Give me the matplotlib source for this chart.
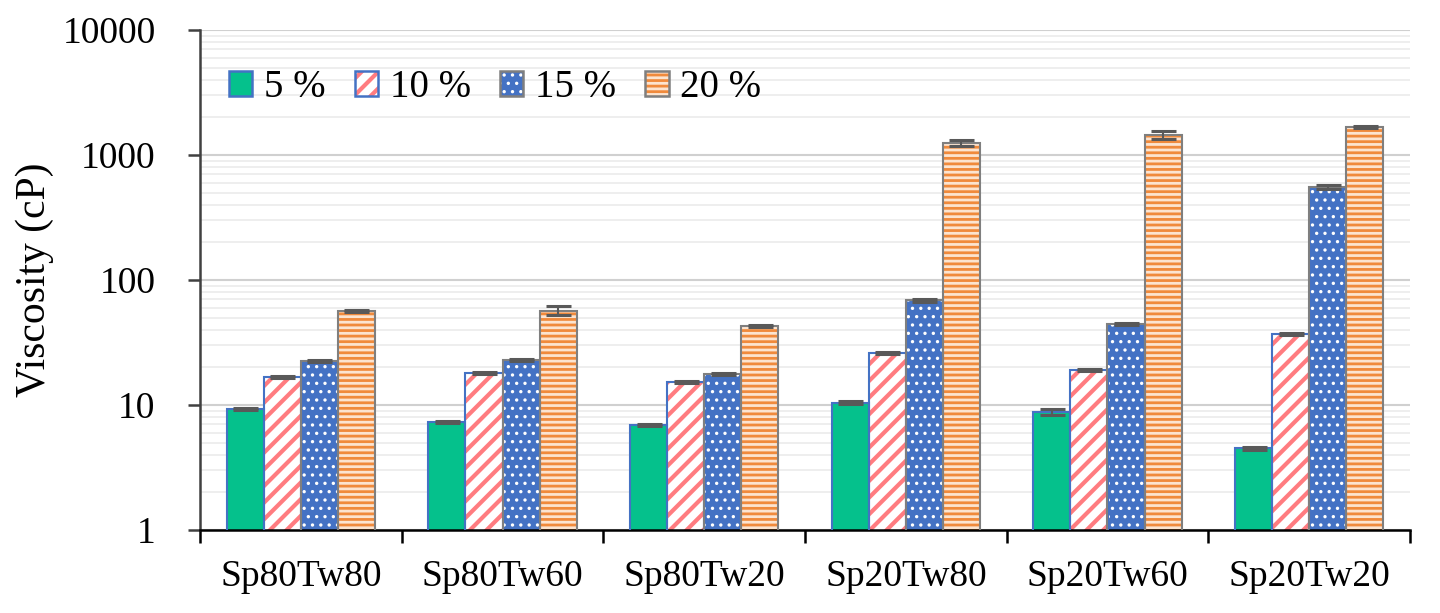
import numpy as np
import matplotlib
matplotlib.use("Agg")
import matplotlib.pyplot as plt
from matplotlib.patches import Patch, Rectangle
from matplotlib.legend_handler import HandlerTuple
from matplotlib.ticker import LogLocator, NullFormatter, FixedLocator

categories = ["Sp80Tw80", "Sp80Tw60", "Sp80Tw20", "Sp20Tw80", "Sp20Tw60", "Sp20Tw20"]
series = ["5 %", "10 %", "15 %", "20 %"]

v5 = [9.3, 7.3, 6.9, 10.4, 8.8, 4.5]
v10 = [16.8, 18.0, 15.3, 26.0, 19.0, 37.0]
v15 = [22.5, 22.9, 17.7, 69.0, 44.5, 555.0]
v20 = [56.5, 57.0, 42.9, 1250.0, 1445.0, 1675.0]

e5 = [0.2, 0.15, 0.15, 0.3, 0.5, 0.1]
e10 = [0.3, 0.3, 0.3, 0.4, 0.4, 0.8]
e15 = [0.4, 0.5, 0.4, 2.0, 1.0, 25.0]
e20 = [1.0, 5.0, 1.0, 80.0, 110.0, 30.0]

plt.rcParams["font.family"] = ["Liberation Serif", "DejaVu Serif"]

fig = plt.figure(figsize=(14.4, 6.13), dpi=100)
ax = fig.add_axes([200 / 1440, 1 - 530 / 613, 1210 / 1440, 500 / 613])

styles = [
    dict(face="#05C18C", hatch=None, hcol=None, edge="#4472C4", hlw=1),
    dict(face="white", hatch="//", hcol="#FF7C80", edge="#4472C4", hlw=3.0),
    dict(face="#4472C4", hatch="..", hcol="white", edge="#7F7F7F", hlw=1.2),
    dict(face="#FCE4D0", hatch="---", hcol="#F08A3C", edge="#7F7F7F", hlw=2.0),
]

values = [v5, v10, v15, v20]
errors = [e5, e10, e15, e20]
x = np.arange(len(categories))
w = 0.184
offsets = (np.arange(4) - 1.5) * w


def set_hlw(patch, lw):
    if hasattr(patch, "set_hatch_linewidth"):
        patch.set_hatch_linewidth(lw)


for vals, errs, st, off in zip(values, errors, styles, offsets):
    with plt.rc_context({"hatch.linewidth": st["hlw"]}):
        if st["hatch"]:
            bars = ax.bar(x + off, vals, w, color=st["face"], hatch=st["hatch"],
                          edgecolor=st["hcol"], linewidth=0, zorder=2)
            for b in bars:
                set_hlw(b, st["hlw"])
        else:
            ax.bar(x + off, vals, w, color=st["face"], linewidth=0, zorder=2)
    ax.bar(x + off, vals, w, fill=False, edgecolor=st["edge"], linewidth=1.5, zorder=3)
    ax.errorbar(x + off, vals, yerr=errs, fmt="none", ecolor="#595959",
                elinewidth=1.5, capsize=9, capthick=2.2, zorder=4)

ax.set_yscale("log")
ax.set_ylim(1, 10000)
ax.set_xlim(-0.5, len(categories) - 0.5)
ax.yaxis.set_major_locator(FixedLocator([1, 10, 100, 1000, 10000]))
ax.set_yticklabels(["1", "10", "100", "1000", "10000"])
ax.yaxis.set_minor_locator(LogLocator(base=10, subs=np.arange(2, 10)))
ax.yaxis.set_minor_formatter(NullFormatter())
ax.grid(True, which="major", axis="y", color="#D0D0D0", linewidth=1.5, zorder=0)
ax.grid(True, which="minor", axis="y", color="#EBEBEB", linewidth=1.2, zorder=0)
ax.set_axisbelow(True)

ax.set_xticks(x)
ax.set_xticklabels(categories)
ax.set_xticks(np.arange(len(categories) + 1) - 0.5, minor=True)
ax.tick_params(axis="x", which="major", length=0, labelsize=27, pad=21)
ax.tick_params(axis="x", which="minor", length=9, width=1.8, direction="out", color="black")
ax.tick_params(axis="y", which="major", length=9, width=1.8, direction="out",
               color="#404040", labelsize=27, pad=23)
ax.tick_params(axis="y", which="minor", length=0)

for s in ["top", "right"]:
    ax.spines[s].set_visible(False)
ax.spines["left"].set_color("#404040")
ax.spines["left"].set_linewidth(1.8)
ax.spines["bottom"].set_color("black")
ax.spines["bottom"].set_linewidth(1.8)

ax.set_ylabel("Viscosity (cP)", fontsize=30, labelpad=6)

# legend: hatch patch with outline patch on top
handles = []
for st in styles:
    inner = Patch(facecolor=st["face"], hatch=st["hatch"],
                  edgecolor=st["hcol"] if st["hatch"] else st["face"], linewidth=0)
    outer = Patch(fill=False, edgecolor=st["edge"], linewidth=1.8)
    handles.append((inner, outer))

leg = ax.legend(handles, series, loc="upper left", ncol=4, frameon=False, fontsize=28,
                handlelength=0.6, handleheight=0.6, handletextpad=0.3, columnspacing=0.75,
                borderpad=0, borderaxespad=0,
                handler_map={tuple: HandlerTuple(ndivide=1, pad=0)},
                bbox_to_anchor=(29 / 1210, 1 - 39 / 500))

hatch_lw = {st["hatch"]: st["hlw"] for st in styles if st["hatch"]}
for r in leg.findobj(Rectangle):
    h = r.get_hatch()
    if h in hatch_lw:
        set_hlw(r, hatch_lw[h])

fig.savefig("out.png", dpi=100)
